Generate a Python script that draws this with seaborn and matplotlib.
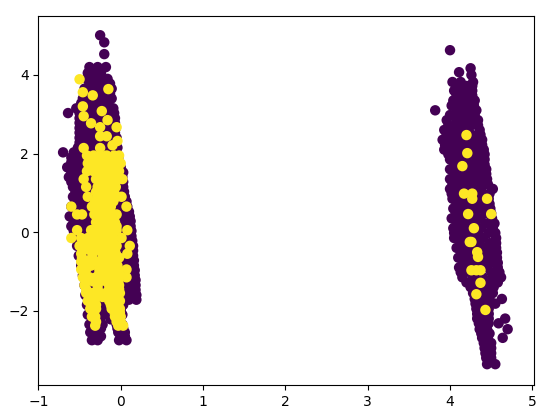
import pandas as pd
from matplotlib import pyplot as plt
import seaborn as sns

# values, one x list per y row
left_y = [5.01, 4.83, 4.53, 4.2, 3.9, 3.65, 3.4, 3.15, 2.9, 2.65, 2.4, 2.15, 1.9, 1.65, 1.4, 1.15, 0.9, 0.65, 0.4, 0.15,
          -0.1, -0.35, -0.6, -0.85, -1.1, -1.35, -1.6, -1.85, -2.1, -2.35, -2.55, -2.75]
left_x = [
    [-0.25],
    [-0.2],
    [-0.2],
    [-0.38, -0.28, -0.18],
    [-0.41, -0.33, -0.23, -0.16],
    [-0.44, -0.36, -0.28, -0.2, -0.11],
    [-0.46, -0.38, -0.3, -0.2, -0.11],
    [-0.54, -0.47, -0.38, -0.28, -0.18, -0.09],
    [-0.5, -0.41, -0.3, -0.2, -0.07],
    [-0.5, -0.4, -0.3, -0.2, -0.1, -0.06],
    [-0.5, -0.41, -0.3, -0.2, -0.1, -0.05],
    [-0.52, -0.43, -0.33, -0.23, -0.12, -0.04],
    [-0.6, -0.52, -0.42, -0.3, -0.2, -0.1, -0.03],
    [-0.65, -0.55, -0.44, -0.33, -0.22, -0.1, 0.0],
    [-0.63, -0.53, -0.44, -0.33, -0.22, -0.1, 0.02],
    [-0.58, -0.5, -0.4, -0.3, -0.2, -0.08, 0.03],
    [-0.58, -0.5, -0.4, -0.3, -0.2, -0.06, 0.05],
    [-0.6, -0.5, -0.4, -0.3, -0.15, -0.03, 0.08],
    [-0.62, -0.52, -0.42, -0.3, -0.15, -0.02, 0.11],
    [-0.6, -0.5, -0.4, -0.28, -0.12, 0.0, 0.12],
    [-0.57, -0.45, -0.3, -0.15, 0.0, 0.13],
    [-0.53, -0.42, -0.28, -0.14, 0.02, 0.15],
    [-0.51, -0.4, -0.25, -0.1, 0.04, 0.15],
    [-0.48, -0.35, -0.2, -0.05, 0.06, 0.16],
    [-0.46, -0.33, -0.2, -0.05, 0.07, 0.17],
    [-0.44, -0.32, -0.2, -0.05, 0.07, 0.18],
    [-0.43, -0.3, -0.18, -0.04, 0.08, 0.19],
    [-0.41, -0.3, -0.18, -0.03, 0.03],
    [-0.4, -0.3, -0.2, -0.03, 0.02],
    [-0.38, -0.28, -0.22, -0.05, 0.02],
    [-0.37, -0.27, -0.03, 0.05],
    [-0.35, -0.28, -0.02, 0.07],
]

left_fill_y = [4.05, 3.78, 3.52, 3.28, 3.03, 2.78, 2.53, 2.28, 2.03, 1.78, 1.52, 1.28, 1.03, 0.78, 0.52, 0.28, 0.03,
               -0.22, -0.47, -0.72, -0.97, -1.22, -1.47, -1.72, -1.97, -2.22, -2.45, -2.65]
left_fill_x = [
    [-0.4, -0.32, -0.24],
    [-0.38, -0.3, -0.2, -0.13],
    [-0.42, -0.34, -0.26, -0.17, -0.13],
    [-0.48, -0.42, -0.34, -0.25, -0.15],
    [-0.64, -0.5, -0.44, -0.35, -0.25, -0.14, -0.08],
    [-0.5, -0.45, -0.35, -0.25, -0.15, -0.07],
    [-0.5, -0.45, -0.35, -0.25, -0.15, -0.07],
    [-0.5, -0.46, -0.36, -0.26, -0.16, -0.07],
    [-0.7, -0.57, -0.48, -0.38, -0.26, -0.16, -0.08],
    [-0.6, -0.5, -0.38, -0.26, -0.15, -0.05],
    [-0.6, -0.5, -0.38, -0.28, -0.16, -0.05, 0.03],
    [-0.6, -0.48, -0.38, -0.27, -0.15, -0.04, 0.03],
    [-0.55, -0.45, -0.35, -0.25, -0.14, -0.02, 0.04],
    [-0.55, -0.45, -0.35, -0.25, -0.12, 0.02, 0.07],
    [-0.56, -0.46, -0.36, -0.22, -0.08, 0.04, 0.1],
    [-0.57, -0.46, -0.35, -0.2, -0.06, 0.06, 0.12],
    [-0.57, -0.45, -0.35, -0.2, -0.06, 0.06, 0.13],
    [-0.5, -0.37, -0.22, -0.08, 0.06, 0.14],
    [-0.47, -0.35, -0.2, -0.05, 0.08, 0.15],
    [-0.45, -0.3, -0.15, 0.0, 0.1, 0.16],
    [-0.42, -0.28, -0.12, 0.01, 0.12, 0.17],
    [-0.4, -0.27, -0.12, 0.01, 0.12, 0.18],
    [-0.38, -0.25, -0.1, 0.02, 0.13, 0.18],
    [-0.36, -0.24, -0.1, 0.02, 0.1, 0.19],
    [-0.35, -0.24, -0.1, 0.0],
    [-0.34, -0.25, -0.12, -0.01],
    [-0.33, -0.24, -0.04, 0.03],
    [-0.32, -0.24, 0.0, 0.05],
]

right_y = [4.63, 4.17, 4.07, 4.0, 3.82, 3.6, 3.35, 3.1, 2.85, 2.6, 2.35, 2.1, 1.85, 1.6, 1.35, 1.1, 0.85, 0.6, 0.35,
           0.1, -0.15, -0.4, -0.65, -0.9, -1.15, -1.4, -1.7, -1.95, -2.2, -2.32, -2.47, -2.69, -2.95, -3.2, -3.36]
right_x = [
    [4.0],
    [4.25],
    [4.11],
    [4.26],
    [4.03, 4.13, 4.28],
    [4.05, 4.15, 4.27],
    [4.04, 4.14, 4.24, 4.3],
    [3.82, 4.08, 4.18, 4.27, 4.32],
    [3.96, 4.08, 4.18, 4.28, 4.34],
    [3.93, 4.02, 4.12, 4.22, 4.36],
    [3.91, 4.0, 4.1, 4.2, 4.3, 4.39],
    [3.93, 4.03, 4.13, 4.25, 4.33, 4.41],
    [4.0, 4.1, 4.2, 4.32, 4.42],
    [4.0, 4.1, 4.22, 4.33, 4.44],
    [4.0, 4.1, 4.2, 4.32, 4.45],
    [4.0, 4.08, 4.18, 4.3, 4.38, 4.52],
    [4.03, 4.13, 4.22, 4.34, 4.47],
    [4.04, 4.13, 4.25, 4.36, 4.49],
    [4.02, 4.13, 4.25, 4.37, 4.51],
    [4.04, 4.14, 4.25, 4.38, 4.52],
    [4.05, 4.16, 4.28, 4.4, 4.56],
    [4.08, 4.18, 4.3, 4.42, 4.56],
    [4.1, 4.2, 4.32, 4.45, 4.57],
    [4.11, 4.21, 4.33, 4.45, 4.58],
    [4.15, 4.28, 4.4, 4.52, 4.62],
    [4.25, 4.35, 4.45, 4.53],
    [4.3, 4.4, 4.48, 4.63],
    [4.32, 4.4, 4.47],
    [4.33, 4.41, 4.47, 4.67],
    [4.59],
    [4.36, 4.45, 4.7],
    [4.39, 4.46, 4.64],
    [4.42, 4.5],
    [4.44, 4.5],
    [4.45, 4.55],
]

right_fill_y = [3.72, 3.48, 3.22, 2.98, 2.72, 2.48, 2.22, 1.98, 1.72, 1.48, 1.22, 0.98, 0.72, 0.48, 0.22,
                -0.02, -0.28, -0.52, -0.78, -1.02, -1.28, -1.55, -1.82, -2.08, -2.32, -2.58, -2.82, -3.08]
right_fill_x = [
    [4.1, 4.2, 4.27],
    [4.08, 4.18, 4.27],
    [4.02, 4.12, 4.21, 4.29],
    [4.0, 4.12, 4.22, 4.3],
    [3.98, 4.06, 4.16, 4.26, 4.34],
    [3.96, 4.06, 4.16, 4.26, 4.37],
    [3.94, 4.06, 4.17, 4.28, 4.39],
    [3.98, 4.08, 4.18, 4.29, 4.38, 4.42],
    [4.05, 4.15, 4.26, 4.38, 4.42],
    [4.05, 4.15, 4.26, 4.38, 4.44],
    [4.03, 4.14, 4.25, 4.38, 4.46],
    [4.02, 4.12, 4.25, 4.36, 4.48],
    [4.08, 4.18, 4.3, 4.42, 4.48],
    [4.07, 4.18, 4.3, 4.43, 4.5],
    [4.08, 4.18, 4.31, 4.45, 4.54],
    [4.05, 4.1, 4.2, 4.33, 4.47, 4.55],
    [4.13, 4.23, 4.35, 4.48, 4.56],
    [4.15, 4.26, 4.38, 4.5, 4.57],
    [4.16, 4.26, 4.38, 4.5, 4.58],
    [4.13, 4.24, 4.36, 4.5, 4.6],
    [4.2, 4.3, 4.4, 4.5, 4.58],
    [4.28, 4.38, 4.46, 4.52],
    [4.31, 4.37, 4.46, 4.55],
    [4.33, 4.4, 4.47],
    [4.35, 4.42, 4.47],
    [4.38, 4.45, 4.48],
    [4.41, 4.48, 4.5],
    [4.43, 4.5],
]

yellow_left_y = [3.89, 3.64, 3.56, 3.48, 3.2, 3.08, 2.95, 2.85, 2.77, 2.67, 2.44, 2.32, 2.21, 2.14, 1.95, 1.75, 1.55, 1.35, 1.15,
                 0.9, 0.65, 0.45, 0.25, 0.05, -0.15, -0.35, -0.55, -0.75, -0.95, -1.15, -1.35, -1.55, -1.75, -1.95, -2.15, -2.38]
yellow_left_x = [
    [-0.5],
    [-0.15],
    [-0.46],
    [-0.34],
    [-0.46],
    [-0.23],
    [-0.45],
    [-0.16],
    [-0.36],
    [-0.25, -0.05],
    [-0.25, -0.17],
    [-0.04],
    [-0.1],
    [-0.45, -0.25],
    [-0.41, -0.33, -0.25, -0.17, -0.08, -0.02],
    [-0.4, -0.32, -0.24, -0.15, -0.05, 0.0],
    [-0.41, -0.33, -0.25, -0.17, -0.1, -0.02],
    [-0.45, -0.3, -0.22, -0.14, -0.03, 0.02],
    [-0.42, -0.28, -0.2, -0.12, -0.06],
    [-0.4, -0.28, -0.2, -0.12, -0.05, 0.01],
    [-0.6, -0.35, -0.27, -0.19, -0.12, 0.07],
    [-0.47, -0.53, -0.32, -0.24, -0.16, -0.1, -0.05],
    [-0.3, -0.22, -0.14, -0.07],
    [-0.53, -0.36, -0.28, -0.2, -0.12, -0.05, 0.08],
    [-0.6, -0.48, -0.4, -0.32, -0.24, -0.16, -0.07, 0.01],
    [-0.5, -0.42, -0.34, -0.26, -0.18, -0.1, -0.05, 0.11],
    [-0.48, -0.34, -0.22, -0.14, -0.06, 0.08],
    [-0.48, -0.4, -0.3, -0.22, -0.14, -0.06],
    [-0.48, -0.42, -0.26, -0.18, -0.1, -0.03, 0.07],
    [-0.46, -0.38, -0.3, -0.22, -0.14, -0.06, 0.07, -0.02],
    [-0.44, -0.28, -0.14, -0.06, -0.02],
    [-0.42, -0.34, -0.26, -0.18, -0.1, -0.04, -0.01],
    [-0.4, -0.32, -0.14, -0.08, -0.01],
    [-0.37, -0.3, -0.11, -0.05, -0.01],
    [-0.35, -0.31, -0.07, 0.0],
    [-0.31, -0.03, 0.03],
]

yellow_fill_y = [1.85, 1.65, 1.45, 1.25, 1.02, 0.78, 0.55, 0.35, 0.15, -0.05, -0.25, -0.45, -0.65, -0.85,
                 -1.05, -1.25, -1.45, -1.65, -1.85, -2.05, -2.28]
yellow_fill_x = [
    [-0.36, -0.28, -0.2, -0.1],
    [-0.37, -0.29, -0.21, -0.13, -0.06],
    [-0.26, -0.18, -0.1],
    [-0.25, -0.17, -0.08],
    [-0.3, -0.24, -0.16, -0.08],
    [-0.31, -0.23, -0.15, -0.09],
    [-0.28, -0.2, -0.13],
    [-0.26, -0.18, -0.1],
    [-0.26, -0.18, -0.1, -0.05],
    [-0.32, -0.24, -0.16, -0.08],
    [-0.44, -0.36, -0.28, -0.2, -0.12],
    [-0.46, -0.38, -0.3, -0.22, -0.14, -0.07],
    [-0.47, -0.35, -0.22, -0.14, -0.06, -0.02],
    [-0.44, -0.36, -0.26, -0.18, -0.1, -0.04],
    [-0.44, -0.26, -0.16, -0.08, -0.02],
    [-0.42, -0.34, -0.26, -0.18, -0.1, -0.03],
    [-0.42, -0.28, -0.14, -0.06, -0.02],
    [-0.38, -0.3, -0.22, -0.14, -0.06],
    [-0.36, -0.3, -0.12, -0.05],
    [-0.33, -0.07, -0.01],
    [-0.3, -0.05, 0.0],
]

yellow_right_y = [2.47, 2.01, 1.68, 0.98, 0.85, 0.46, 0.1, -0.25, -0.51, -0.63, -0.97, -1.29, -1.58, -1.98]
yellow_right_x = [
    [4.2],
    [4.21],
    [4.15],
    [4.17, 4.27],
    [4.27, 4.45],
    [4.22, 4.5],
    [4.29],
    [4.24, 4.26],
    [4.33],
    [4.34],
    [4.26, 4.32, 4.37],
    [4.37],
    [4.32],
    [4.43],
]

x_ticks = [-1, 0, 1, 2, 3, 4, 5]
y_ticks = [-2, 0, 2, 4]


def rows_to_frame(ys, xs, label):
    rows = [(x, y, label) for y, row in zip(ys, xs) for x in row]
    return pd.DataFrame(rows, columns=["x", "y", "label"])


df = pd.concat([
    rows_to_frame(left_y, left_x, 0),
    rows_to_frame(left_fill_y, left_fill_x, 0),
    rows_to_frame(right_y, right_x, 0),
    rows_to_frame(right_fill_y, right_fill_x, 0),
    rows_to_frame(yellow_left_y, yellow_left_x, 1),
    rows_to_frame(yellow_fill_y, yellow_fill_x, 1),
    rows_to_frame(yellow_right_y, yellow_right_x, 1),
])

fig = plt.figure(figsize=(5.59, 4.17), dpi=100)
ax = fig.add_axes([38.4 / 559, 32 / 417, 496 / 559, 369 / 417])
sns.scatterplot(data=df, x="x", y="y", hue="label", palette={0: "#440154", 1: "#fde725"},
                s=36, linewidth=1.5, edgecolor="face", legend=False, ax=ax)
ax.set_xlim(-0.995, 5.025)
ax.set_ylim(-3.89, 5.5)
ax.set_xticks(x_ticks)
ax.set_yticks(y_ticks)
ax.set_xlabel("")
ax.set_ylabel("")
plt.savefig("out.png", dpi=100)
